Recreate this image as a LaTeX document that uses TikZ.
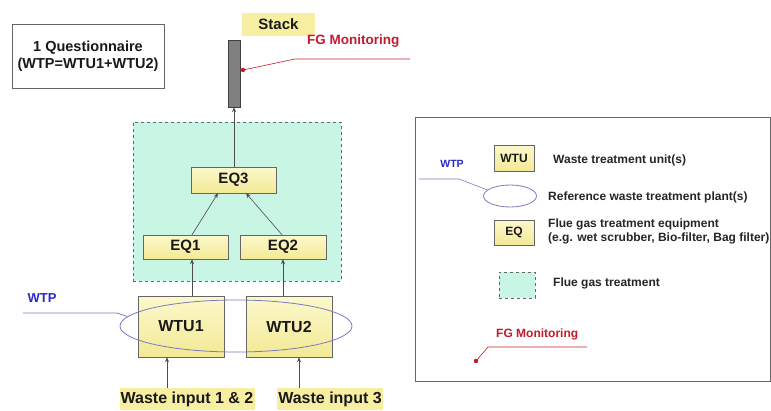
\documentclass[tikz,border=0pt]{standalone}
\usepackage{fontspec}
\setmainfont{Liberation Sans}
\usetikzlibrary{arrows.meta,shapes.geometric}
\definecolor{boxtop}{HTML}{FCF8CC}
\definecolor{boxbot}{HTML}{F3E995}
\definecolor{lblyellow}{HTML}{F8EEA2}
\definecolor{mint}{HTML}{C8F5E4}
\definecolor{edgegray}{HTML}{666666}
\definecolor{ellblue}{HTML}{7A7AC0}
\definecolor{wtpblue}{HTML}{2A2ACC}
\definecolor{fgred}{HTML}{C41A2E}
\begin{document}
\begin{tikzpicture}[x=1pt,y=-1pt,
  unitbox/.style={draw=edgegray,top color=boxtop,bottom color=boxbot,inner sep=0pt,text=black!90,font=\bfseries\fontsize{15}{18}\selectfont},
  lbl/.style={fill=lblyellow,inner sep=0pt,text=black!90,font=\bfseries\fontsize{15}{18}\selectfont},
  legtext/.style={anchor=west,inner sep=0pt,font=\bfseries\fontsize{12}{14}\selectfont,text=black!85},
  arr/.style={draw=black!70,line width=0.6pt,-{Stealth[length=5pt,width=4pt]}},
  fgtbox/.style={draw=edgegray,dashed,fill=mint},
  ell/.style={draw=ellblue,line width=0.8pt,ellipse,inner sep=0pt},
  wtpline/.style={draw=ellblue,line width=0.8pt},
  fgline/.style={draw=fgred,line width=0.6pt}]
\useasboundingbox (0,0) rectangle (771,410);
\fill[white] (0,0) rectangle (771,410);

% questionnaire
\node[draw=edgegray,line width=0.7pt,minimum width=152pt,minimum height=64pt,inner sep=0pt,align=center,text=black!90,
  font=\bfseries\fontsize{14.5}{17}\selectfont] (quest) at (88,56) {1 Questionnaire\\(WTP=WTU1+WTU2)};

% stack
\node[lbl,minimum width=73pt,minimum height=23pt] (stacklbl) at (278.5,24.5) {Stack};
\node[draw=black!75,fill=black!50,minimum width=12pt,minimum height=67pt,inner sep=0pt] (stack) at (234,73.5) {};
\node[anchor=west,inner sep=0pt,text=fgred,font=\bfseries\fontsize{13.5}{16}\selectfont] (fgtxt) at (307,41) {FG Monitoring};
\coordinate (fgdot) at (243,70);
\coordinate (fgbend) at (295,59);
\coordinate (fgend) at (410,59);
\draw[fgline] (fgdot) -- (fgbend) -- (fgend);
\fill[fgred] (fgdot) circle (2.2pt);

% flue gas treatment area
\node[fgtbox,minimum width=208pt,minimum height=159pt,inner sep=0pt] (fgt) at (237,201.5) {};
\node[unitbox,minimum width=85pt,minimum height=26pt] (eq3) at (233.5,180) {EQ3};
\node[unitbox,minimum width=85pt,minimum height=24pt] (eq1) at (185.5,247) {EQ1};
\node[unitbox,minimum width=86pt,minimum height=24pt] (eq2) at (283,247) {EQ2};

% units
\node[unitbox,minimum width=86pt,minimum height=61pt,font=\bfseries\fontsize{16}{19}\selectfont] (wtu1) at (181,326.5) {WTU1};
\node[unitbox,minimum width=86pt,minimum height=61pt,font=\bfseries\fontsize{16}{19}\selectfont] (wtu2) at (289,326.5) {WTU2};
\node[ell,minimum width=232pt,minimum height=52pt] (wtp) at (236,326) {};
\node[inner sep=0pt,text=wtpblue,font=\bfseries\fontsize{13}{15}\selectfont] (wtptxt) at (42,298) {WTP};
\coordinate (wtpstart) at (23,313);
\coordinate (wtpbend) at (117,313);
\draw[wtpline] (wtpstart) -- (wtpbend) -- (wtp.175);

% inputs
\node[lbl,minimum width=135pt,minimum height=22pt,font=\bfseries\fontsize{16}{19}\selectfont] (wi1) at (187,399) {Waste input 1 \& 2};
\node[lbl,minimum width=106pt,minimum height=22pt,font=\bfseries\fontsize{16}{19}\selectfont] (wi3) at (330,399) {Waste input 3};

% arrows
\draw[arr] ([xshift=-20pt]wi1.north) -- ([xshift=-14pt]wtu1.south);
\draw[arr] ([xshift=-31pt]wi3.north) -- ([xshift=10pt]wtu2.south);
\draw[arr] ([xshift=11pt]wtu1.north) -- ([xshift=6.5pt]eq1.south);
\draw[arr] ([xshift=-6pt]wtu2.north) -- (eq2.south);
\draw[arr] ([xshift=6.5pt]eq1.north) -- ([xshift=-15.5pt]eq3.south);
\draw[arr] ([xshift=-1pt]eq2.north) -- ([xshift=12.5pt]eq3.south);
\draw[arr] ([xshift=0.5pt]eq3.north) -- (stack.south);

% legend
\node[draw=edgegray,line width=0.7pt,minimum width=355pt,minimum height=264pt,inner sep=0pt] (legend) at (592.5,249) {};
\node[unitbox,minimum width=40pt,minimum height=26pt,font=\bfseries\fontsize{12}{14}\selectfont] (lwtu) at (514,158) {WTU};
\node[legtext] (twtu) at (553,160) {Waste treatment unit(s)};
\node[ell,minimum width=53pt,minimum height=22pt] (lwtp) at (510,196) {};
\node[inner sep=0pt,text=wtpblue,font=\bfseries\fontsize{10.5}{12}\selectfont] (lwtptxt) at (452,164) {WTP};
\coordinate (lwtpstart) at (419,179);
\coordinate (lwtpbend) at (459,179);
\draw[wtpline,line width=0.6pt] (lwtpstart) -- (lwtpbend) -- (lwtp.165);
\node[legtext] (twtp) at (548,197) {Reference waste treatment plant(s)};
\node[unitbox,minimum width=40pt,minimum height=25pt,font=\bfseries\fontsize{12}{14}\selectfont] (leq) at (514,232.5) {EQ};
\node[legtext,align=left] (teq) at (548,231) {Flue gas treatment equipment\\(e.g. wet scrubber, Bio-filter, Bag filter)};
\node[fgtbox,minimum width=36pt,minimum height=26pt,inner sep=0pt] (lfgt) at (517,285) {};
\node[legtext] (tfgt) at (553,283) {Flue gas treatment};
\node[inner sep=0pt,anchor=west,text=fgred,font=\bfseries\fontsize{12}{14}\selectfont] (lfgtxt) at (496,334) {FG Monitoring};
\coordinate (lfgdot) at (476,361);
\coordinate (lfgbend) at (488,347);
\coordinate (lfgend) at (587,347);
\draw[fgline] (lfgdot) -- (lfgbend) -- (lfgend);
\fill[fgred] (lfgdot) circle (2.2pt);
\end{tikzpicture}
\end{document}
